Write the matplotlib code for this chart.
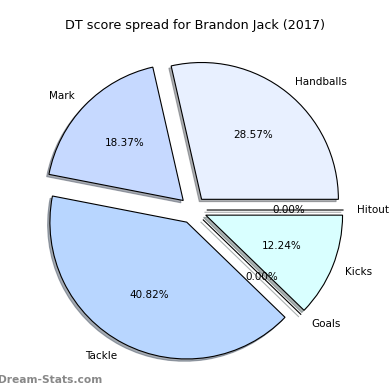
import matplotlib
matplotlib.use("Agg")
import matplotlib.pyplot as plt

labels = ['Hitout', 'Handballs', 'Mark', 'Tackle', 'Goals', 'Kicks']
values = [0.0, 28.57, 18.37, 40.82, 0.0, 12.24]
colors = ['#f0f8ff', '#e8f0ff', '#c6d9ff', '#b8d6ff', '#e0ffff', '#d9ffff']
explode = [0.1] * len(values)

fig = plt.figure(figsize=(3.9, 3.9), dpi=100)
ax = fig.add_axes([0.0565, 0.023, 0.877, 0.877])
wedges, texts, autotexts = ax.pie(values, labels=labels, colors=colors, explode=explode,
                                  autopct='%1.2f%%',
                                  shadow={'ox': -0.012, 'oy': -0.012, 'shade': 0.6},
                                  startangle=0,
                                  wedgeprops=dict(edgecolor='black', linewidth=0.8),
                                  textprops=dict(fontsize=7.5))
ax.set_aspect('equal')
fig.text(0.5, 0.935, 'DT score spread for Brandon Jack (2017)', ha='center', va='center', fontsize=9.2)
fig.text(-0.005, 0.025, 'Dream-Stats.com', ha='left', va='center', fontsize=7.7,
         color='#888888', fontweight='bold')
fig.savefig('out.png', dpi=100)
